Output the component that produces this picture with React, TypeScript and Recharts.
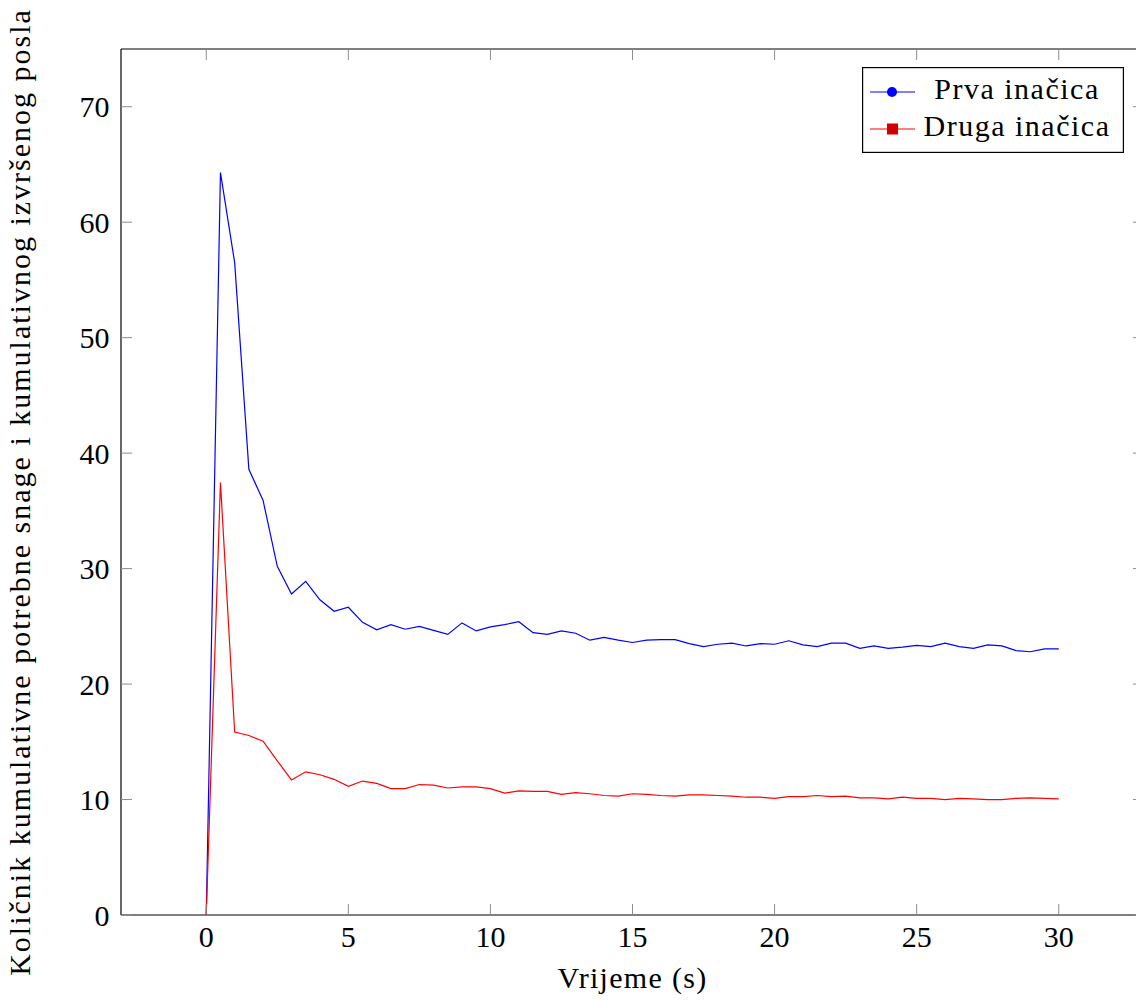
import { LineChart, Line, XAxis, YAxis, Legend, Label } from 'recharts';

const FONT = 'Liberation Serif';

const time = [
  0, 0.5, 1, 1.5, 2, 2.5, 3, 3.5, 4, 4.5, 5, 5.5, 6, 6.5, 7, 7.5, 8, 8.5, 9, 9.5,
  10, 10.5, 11, 11.5, 12, 12.5, 13, 13.5, 14, 14.5, 15, 15.5, 16, 16.5, 17, 17.5,
  18, 18.5, 19, 19.5, 20, 20.5, 21, 21.5, 22, 22.5, 23, 23.5, 24, 24.5, 25, 25.5,
  26, 26.5, 27, 27.5, 28, 28.5, 29, 29.5, 30,
];

const prva = [
  0, 64.3, 56.5, 38.6, 35.9, 30.2, 27.8, 28.9, 27.3, 26.3, 26.65, 25.35, 24.7, 25.15,
  24.75, 25.0, 24.65, 24.3, 25.3, 24.6, 24.95, 25.15, 25.4, 24.45, 24.3, 24.6, 24.4,
  23.8, 24.05, 23.8, 23.6, 23.8, 23.85, 23.85, 23.5, 23.25, 23.45, 23.55, 23.3, 23.5,
  23.45, 23.75, 23.4, 23.25, 23.55, 23.55, 23.1, 23.3, 23.1, 23.2, 23.35, 23.25, 23.55,
  23.25, 23.1, 23.4, 23.3, 22.9, 22.8, 23.05, 23.05,
];

const druga = [
  0, 37.45, 15.85, 15.55, 15.05, 13.35, 11.7, 12.4, 12.15, 11.75, 11.15, 11.6, 11.4,
  10.95, 10.95, 11.3, 11.25, 11.0, 11.1, 11.1, 10.95, 10.55, 10.75, 10.7, 10.7, 10.45,
  10.6, 10.5, 10.35, 10.3, 10.5, 10.45, 10.35, 10.3, 10.4, 10.4, 10.35, 10.3, 10.2,
  10.2, 10.1, 10.25, 10.25, 10.35, 10.25, 10.3, 10.15, 10.15, 10.05, 10.2, 10.1, 10.1,
  10.0, 10.1, 10.05, 10.0, 10.0, 10.1, 10.15, 10.1, 10.05,
];

const xTicks = [0, 5, 10, 15, 20, 25, 30];
const yTicks = [0, 10, 20, 30, 40, 50, 60, 70];

const data = time.map((t, i) => ({ t, prva: prva[i], druga: druga[i] }));

// chart frame
const W = 1160;
const H = 1001;
const MARGIN = { top: 49, right: 16, bottom: 56, left: 61 };
const Y_AXIS_W = 60;
const X_AXIS_H = 30;
const PLOT_L = MARGIN.left + Y_AXIS_W;
const PLOT_R = W - MARGIN.right;
const PLOT_T = MARGIN.top;
const PLOT_B = H - MARGIN.bottom - X_AXIS_H;

const TICK = 11;
const TICK_COLOR = '#8c8c8c';
const spine = { stroke: '#000', strokeWidth: 1.2 };

// x tick: label below the axis + inward marks at bottom and top
const XTick = (props: any) => (
  <g>
    <line x1={props.x} y1={PLOT_B} x2={props.x} y2={PLOT_B - TICK} stroke={TICK_COLOR} />
    <line x1={props.x} y1={PLOT_T} x2={props.x} y2={PLOT_T + TICK} stroke={TICK_COLOR} />
    <text x={props.x} y={props.y} dy="0.71em" textAnchor="middle" fontFamily={FONT} fontSize={30} fill="#000">
      {props.payload.value}
    </text>
  </g>
);

// y tick: label left of the axis + inward marks at left and right
const YTick = (props: any) => (
  <g>
    <line x1={PLOT_L} y1={props.y} x2={PLOT_L + TICK} y2={props.y} stroke={TICK_COLOR} />
    <line x1={PLOT_R} y1={props.y} x2={PLOT_R - TICK} y2={props.y} stroke={TICK_COLOR} />
    <text x={props.x} y={props.y} dy="0.355em" textAnchor="end" fontFamily={FONT} fontSize={30} fill="#000">
      {props.payload.value}
    </text>
  </g>
);

const LegendBox = () => (
  <svg width={262} height={86} style={{ display: 'block' }}>
    <rect x={0.6} y={0.6} width={260.8} height={84.8} fill="#fff" stroke="#000" strokeWidth={1.2} />
    <line x1={8} y1={25} x2={53} y2={25} stroke="#0000ff" strokeWidth={1.2} />
    <circle cx={30} cy={25} r={5} fill="#0000ff" />
    <text x={155} y={32} textAnchor="middle" fontFamily={FONT} fontSize={30} letterSpacing={1.5}>
      Prva inačica
    </text>
    <line x1={8} y1={62} x2={53} y2={62} stroke="#ff0000" strokeWidth={1.2} />
    <rect x={25} y={56.5} width={11} height={11} fill="#d00000" />
    <text x={155} y={69} textAnchor="middle" fontFamily={FONT} fontSize={30} letterSpacing={1.5}>
      Druga inačica
    </text>
  </svg>
);

export default function App() {
  return (
    <div
      style={{
        position: 'absolute',
        left: 0,
        top: 0,
        width: 1136,
        height: 1001,
        overflow: 'hidden',
        background: '#fff',
      }}
    >
      <LineChart width={W} height={H} data={data} margin={MARGIN}>
        <XAxis
          dataKey="t"
          type="number"
          domain={[-3, 33]}
          ticks={xTicks}
          height={X_AXIS_H}
          tickSize={-11}
          tickMargin={22}
          tick={XTick}
          axisLine={spine}
          tickLine={false}
        >
          <Label
            content={({ viewBox }: any) => (
              <text
                x={viewBox.x + viewBox.width / 2}
                y={viewBox.y + 73}
                textAnchor="middle"
                fontFamily={FONT}
                fontSize={30}
                letterSpacing={1.3}
                fill="#000"
              >
                Vrijeme (s)
              </text>
            )}
          />
        </XAxis>
        <YAxis
          type="number"
          domain={[0, 75]}
          ticks={yTicks}
          width={Y_AXIS_W}
          tickSize={-11}
          tickMargin={22.5}
          tick={YTick}
          axisLine={spine}
          tickLine={false}
        >
          <Label
            content={({ viewBox }: any) => {
              const x = viewBox.x - 31;
              const y = viewBox.y + viewBox.height / 2 + 10;
              return (
                <text
                  x={x}
                  y={y}
                  transform={`rotate(-90 ${x} ${y})`}
                  textAnchor="middle"
                  fontFamily={FONT}
                  fontSize={30}
                  letterSpacing={2}
                  fill="#000"
                >
                  Količnik kumulativne potrebne snage i kumulativnog izvršenog posla
                </text>
              );
            }}
          />
        </YAxis>
        {/* top and right frame lines */}
        <XAxis xAxisId="top" orientation="top" mirror dataKey="t" type="number" domain={[-3, 33]} ticks={xTicks} tick={false} tickLine={false} axisLine={spine} />
        <YAxis yAxisId="right" orientation="right" mirror type="number" domain={[0, 75]} ticks={yTicks} tick={false} tickLine={false} axisLine={spine} />
        <Line
          dataKey="prva"
          name="Prva inačica"
          type="linear"
          stroke="#0000ff"
          strokeWidth={1.2}
          dot={false}
          isAnimationActive={false}
        />
        <Line
          dataKey="druga"
          name="Druga inačica"
          type="linear"
          stroke="#ff0000"
          strokeWidth={1.2}
          dot={false}
          isAnimationActive={false}
        />
        <Legend
          layout="vertical"
          align="center"
          verticalAlign="middle"
          content={() => <LegendBox />}
          wrapperStyle={{ left: 862, top: 67, width: 262, height: 86 }}
        />
      </LineChart>
    </div>
  );
}
